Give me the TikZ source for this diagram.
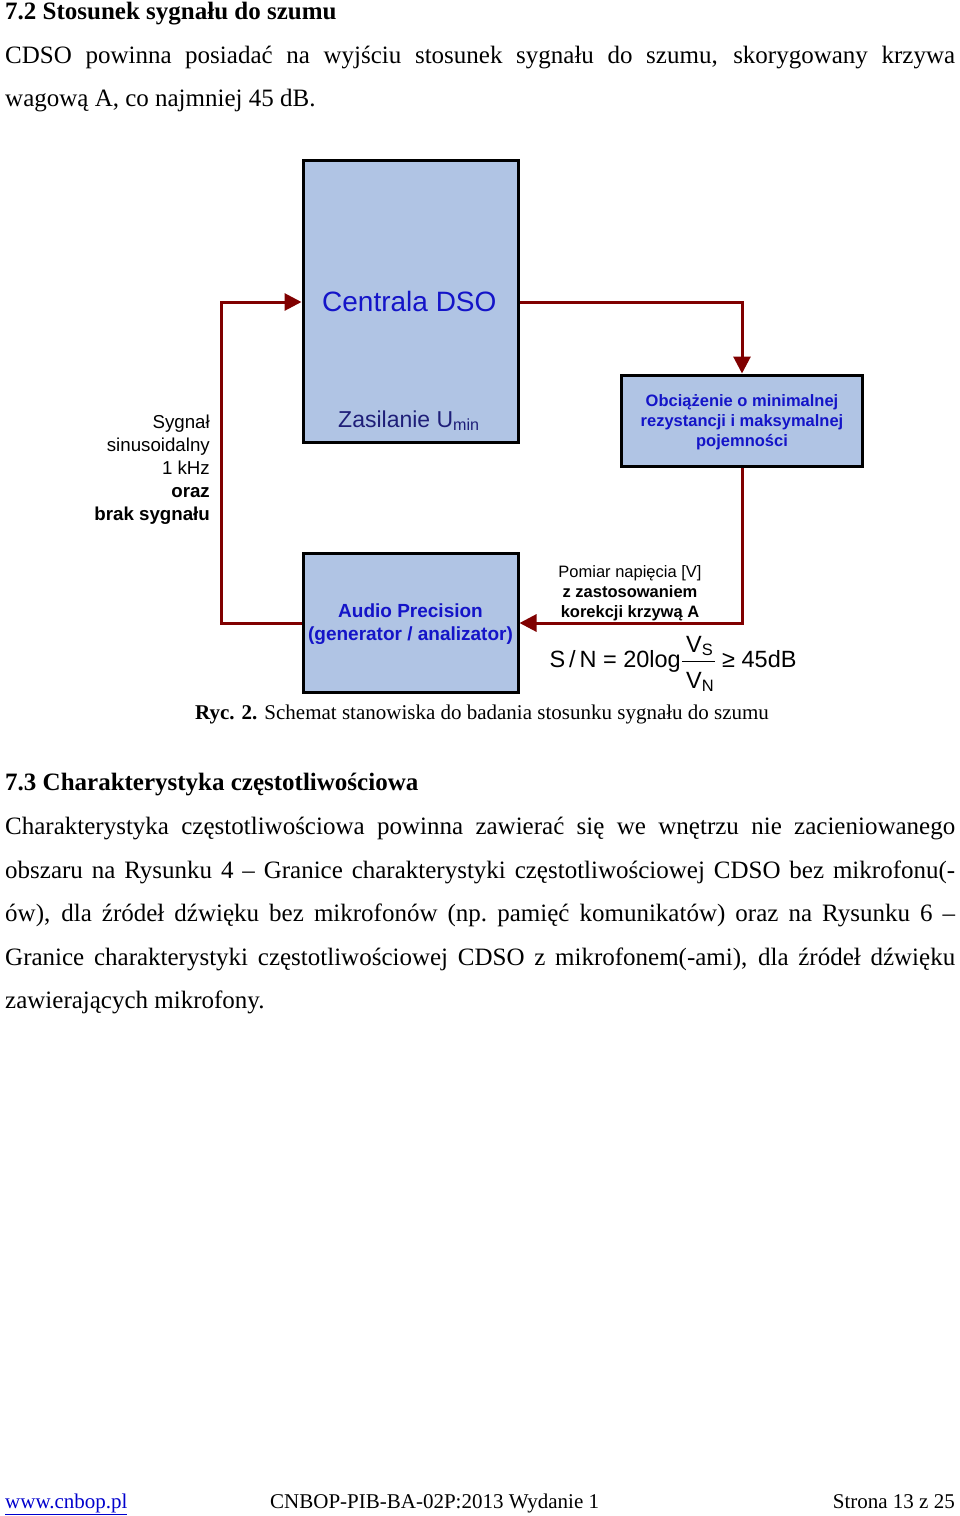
\documentclass[tikz,border=0pt]{standalone}
\usepackage{fontspec}
\setmainfont{Liberation Serif}
\newfontfamily\arialfont{Liberation Sans}
\usetikzlibrary{arrows.meta}
\definecolor{boxfill}{RGB}{176,196,228}
\definecolor{arrred}{RGB}{128,0,0}
\definecolor{txtblue}{RGB}{20,20,200}
\definecolor{navytxt}{RGB}{30,30,120}
\definecolor{linkblue}{RGB}{0,0,205}
\begin{document}
\begin{tikzpicture}[x=1pt,y=-1pt,
  blk/.style={draw=black, line width=3pt, fill=boxfill, inner sep=0pt},
  conn/.style={draw=arrred, line width=3pt, -{Triangle[length=17pt,width=17pt]}},
  body/.style={anchor=base west, inner sep=0pt, font=\fontsize{25}{29}\selectfont},
  captiontext/.style={anchor=base west, inner sep=0pt, font=\fontsize{21}{25}\selectfont},
  foot/.style={inner sep=0pt, font=\fontsize{21}{25}\selectfont},
  sans/.style={inner sep=0pt, font=\arialfont\fontsize{18.7}{23}\selectfont},
  small/.style={inner sep=0pt, align=center, font=\arialfont\fontsize{16.5}{20}\selectfont},
  eq/.style={inner sep=0pt, font=\arialfont\fontsize{23.5}{27}\selectfont}]
\useasboundingbox (0,0) rectangle (960,1516);

% ---- text above ----
\node[body] (h72) at (5,19) {\bfseries 7.2 Stosunek sygnału do szumu};
\node[body] (p1) at (5,63) {\makebox[950pt][s]{CDSO powinna posiadać na wyjściu stosunek sygnału do szumu, skorygowany krzywa}};
\node[body] (p2) at (5,106) {wagową A, co najmniej 45 dB.};

% ---- diagram boxes ----
\node[blk, minimum width=215pt, minimum height=282pt] (centrala) at (410.5,301) {};
\node[blk, minimum width=241pt, minimum height=91pt] (obc) at (742,420.5) {};
\node[blk, minimum width=215pt, minimum height=139pt] (ap) at (410.5,623) {};

\node[anchor=base west, inner sep=0pt, text=txtblue, font=\arialfont\fontsize{28}{32}\selectfont] (cdso) at (322,311) {Centrala DSO};
\node[anchor=base west, inner sep=0pt, text=navytxt, font=\arialfont\fontsize{23}{27}\selectfont] (zas) at (338,427) {Zasilanie U\textsubscript{min}};
\node[small, text=txtblue, font=\arialfont\bfseries\fontsize{16.5}{20}\selectfont] (obctxt) at (742,422) {Obciążenie o minimalnej\\rezystancji i maksymalnej\\pojemności};
\node[inner sep=0pt, align=center, text=txtblue, font=\arialfont\bfseries\fontsize{19}{23}\selectfont] (aptxt) at (410.5,624) {Audio Precision\\(generator / analizator)};

% ---- connectors ----
\coordinate (inY) at (0,302);
\coordinate (lx) at (221,0);
\draw[conn] (ap.west) -- (ap.west -| lx) |- (centrala.west |- inY);
\draw[conn] (centrala.east |- inY) -| (obc.north);
\draw[conn] (obc.south) |- (ap.east);

% ---- labels ----
\node[sans, anchor=base east] (s1) at (210,428) {Sygnał};
\node[sans, anchor=base east] (s2) at (210,451) {sinusoidalny};
\node[sans, anchor=base east] (s3) at (210,474) {1 kHz};
\node[sans, anchor=base east, font=\arialfont\bfseries\fontsize{18.7}{23}\selectfont] (s4) at (210,497) {oraz};
\node[sans, anchor=base east, font=\arialfont\bfseries\fontsize{18.7}{23}\selectfont] (s5) at (210,520) {brak sygnału};

\node[small] (pom) at (630,593.5) {Pomiar napięcia [V]\\\bfseries z zastosowaniem\\\bfseries korekcji krzywą A};

% ---- formula ----
\node[eq, anchor=base east] (sn) at (681,667) {S\,/\,N\;=\;20log};
\node[eq, anchor=base west] (vs) at (686,652) {V\textsubscript{S}};
\node[eq, anchor=base west] (vn) at (686,688) {V\textsubscript{N}};
\draw[line width=1.3pt] (682,661.5) -- (715,661.5);
\node[eq, anchor=base west] (ge) at (722,667) {≥\;45dB};

% ---- caption ----
\node[captiontext] (caption) at (195,719) {\textbf{Ryc. 2.} Schemat stanowiska do badania stosunku sygnału do szumu};

% ---- text below ----
\node[body] (h73) at (5,790) {\bfseries 7.3 Charakterystyka częstotliwościowa};
\node[body] (q1) at (5,834) {\makebox[950pt][s]{Charakterystyka częstotliwościowa powinna zawierać się we wnętrzu nie zacieniowanego}};
\node[body] (q2) at (5,878) {\makebox[950pt][s]{obszaru na Rysunku 4 – Granice charakterystyki częstotliwościowej CDSO bez mikrofonu(-}};
\node[body] (q3) at (5,921) {\makebox[950pt][s]{ów), dla źródeł dźwięku bez mikrofonów (np.\ pamięć komunikatów) oraz na Rysunku 6 –}};
\node[body] (q4) at (5,965) {\makebox[950pt][s]{Granice charakterystyki częstotliwościowej CDSO z mikrofonem(-ami), dla źródeł dźwięku}};
\node[body] (q5) at (5,1008) {zawierających mikrofony.};

% ---- footer ----
\node[foot, anchor=base west, text=linkblue] (url) at (5,1508) {\underline{www.cnbop.pl}};
\node[foot, anchor=base west] (doc) at (270,1508) {CNBOP-PIB-BA-02P:2013 Wydanie 1};
\node[foot, anchor=base east] (page) at (955,1508) {Strona 13 z 25};
\end{tikzpicture}
\end{document}
